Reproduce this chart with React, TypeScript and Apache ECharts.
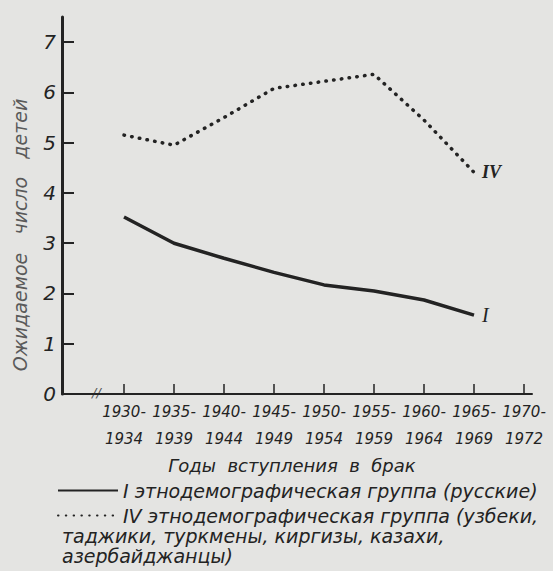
import React, { useEffect, useRef } from "react";
import * as echarts from "echarts";

const categories = [
  "1930-\n1934",
  "1935-\n1939",
  "1940-\n1944",
  "1945-\n1949",
  "1950-\n1954",
  "1955-\n1959",
  "1960-\n1964",
  "1965-\n1969",
  "1970-\n1972",
];
const groupI = [3.52, 3.0, 2.7, 2.42, 2.17, 2.05, 1.87, 1.57];
const groupIV = [5.15, 4.95, 5.5, 6.08, 6.22, 6.36, 5.45, 4.41];
const yTickValues = [0, 1, 2, 3, 4, 5, 6, 7];
const nameI = "I этнодемографическая группа (русские)";
const nameIV = "IV этнодемографическая группа (узбеки,";
const nameIVcont = ["таджики, туркмены, киргизы, казахи,", "азербайджанцы)"];
const yTitle = "Ожидаемое   число   детей";
const xTitle = "Годы  вступления  в  брак";

const FONT = "DejaVu Sans";
const INK = "#232323";
const BG = "#e4e4e2";

export default function App() {
  const ref = useRef<HTMLDivElement>(null);
  useEffect(() => {
    document.body.style.margin = "0";
    const chart = echarts.init(ref.current!, null, { renderer: "svg" });
    const idx = categories.map((_, i) => i);
    chart.setOption({
      animation: false,
      backgroundColor: BG,
      grid: { left: 62, right: 21, top: 17, bottom: 177 },
      xAxis: {
        type: "value",
        min: -1.24,
        max: 8.16,
        axisLine: { show: true, onZero: false, lineStyle: { color: INK, width: 2 } },
        axisTick: {
          show: true,
          customValues: idx,
          inside: false,
          length: -10,
          lineStyle: { color: INK, width: 1.5, opacity: 1 },
        },
        axisLabel: {
          customValues: idx,
          margin: 4,
          color: INK,
          fontFamily: FONT,
          fontStyle: "italic",
          fontSize: 15,
          lineHeight: 27,
          formatter: (v: number) => categories[Math.round(v)] ?? "",
        },
        splitLine: { show: false },
      },
      yAxis: {
        type: "value",
        min: 0,
        max: 7.5,
        axisLine: { show: true, onZero: false, lineStyle: { color: INK, width: 3 } },
        axisTick: {
          show: true,
          customValues: yTickValues,
          inside: false,
          length: -12,
          lineStyle: { color: INK, width: 2, opacity: 1 },
        },
        axisLabel: {
          customValues: yTickValues,
          margin: 6,
          color: INK,
          fontFamily: FONT,
          fontStyle: "italic",
          fontSize: 20,
        },
        splitLine: { show: false },
      },
      legend: {
        orient: "vertical",
        left: 57,
        top: 479,
        padding: 0,
        itemWidth: 60,
        itemHeight: 14,
        itemGap: 2,
        data: [nameI, nameIV],
        itemStyle: { opacity: 0 },
        textStyle: {
          color: INK,
          fontFamily: FONT,
          fontStyle: "italic",
          fontSize: 19,
          lineHeight: 23,
        },
      },
      series: [
        {
          name: nameI,
          type: "line",
          data: groupI.map((v, i) => [i, v]),
          symbol: "none",
          lineStyle: { color: INK, width: 3.5 },
          itemStyle: { color: INK },
          endLabel: {
            show: true,
            formatter: "I",
            distance: 8,
            color: INK,
            fontFamily: "Liberation Serif",
            fontStyle: "italic",
            fontSize: 20,
          },
        },
        {
          name: nameIV,
          type: "line",
          data: groupIV.map((v, i) => [i, v]),
          symbol: "none",
          lineStyle: { color: INK, width: 3.5, type: [0.5, 7.3], cap: "round" },
          itemStyle: { color: INK },
          endLabel: {
            show: true,
            formatter: "IV",
            distance: 8,
            color: INK,
            fontFamily: "Liberation Serif",
            fontStyle: "italic",
            fontWeight: "bold",
            fontSize: 18,
          },
        },
      ],
      graphic: [
        {
          type: "text",
          x: 92,
          y: 386,
          style: { text: "//", fill: "#555", fontFamily: FONT, fontStyle: "italic", fontSize: 13 },
        },
        {
          type: "text",
          x: 20,
          y: 235,
          rotation: Math.PI / 2,
          style: {
            text: yTitle,
            fill: "#5a5a5a",
            fontFamily: FONT,
            fontStyle: "italic",
            fontSize: 19,
            textAlign: "center",
            textVerticalAlign: "middle",
          },
        },
        {
          type: "text",
          x: 292,
          y: 465,
          style: {
            text: xTitle,
            fill: INK,
            fontFamily: FONT,
            fontStyle: "italic",
            fontSize: 18,
            textAlign: "center",
            textVerticalAlign: "middle",
          },
        },
        {
          type: "text",
          x: 62,
          y: 536,
          style: {
            text: nameIVcont[0],
            fill: INK,
            fontFamily: FONT,
            fontStyle: "italic",
            fontSize: 19,
            textVerticalAlign: "middle",
          },
        },
        {
          type: "text",
          x: 62,
          y: 556,
          style: {
            text: nameIVcont[1],
            fill: INK,
            fontFamily: FONT,
            fontStyle: "italic",
            fontSize: 19,
            textVerticalAlign: "middle",
          },
        },
      ],
    });
    return () => chart.dispose();
  }, []);
  return (
    <div
      ref={ref}
      style={{ position: "absolute", left: 0, top: 0, width: 553, height: 571 }}
    />
  );
}
